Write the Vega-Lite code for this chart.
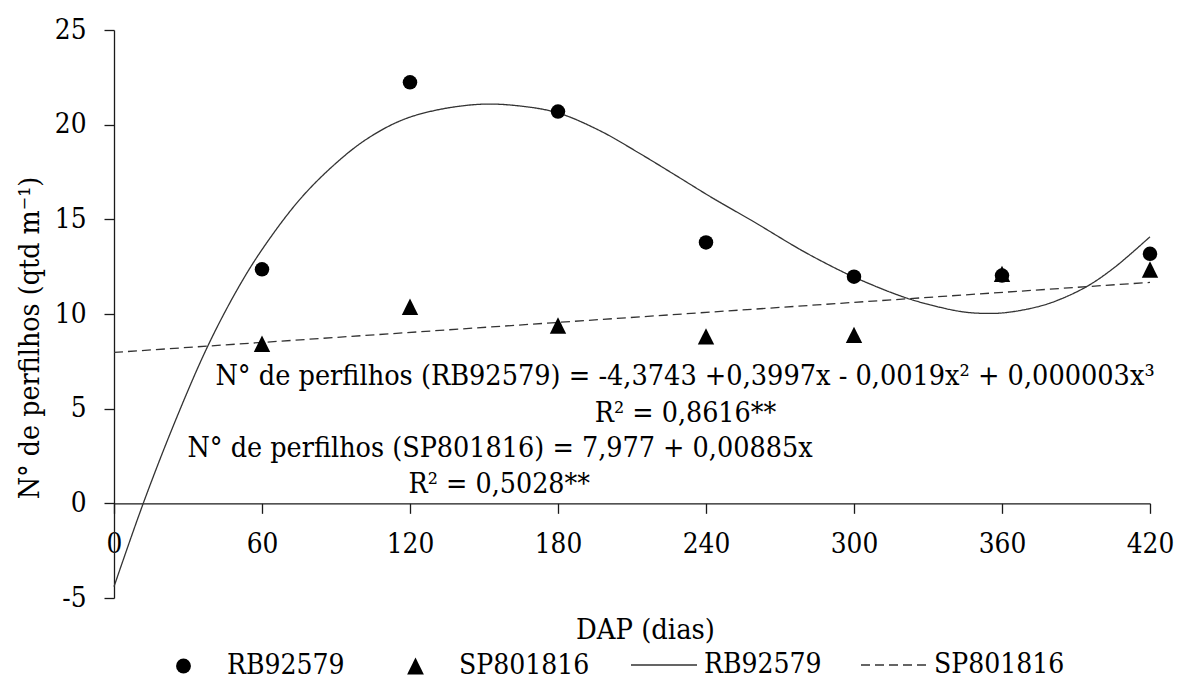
{
  "$schema": "https://vega.github.io/schema/vega-lite/v6.json",
  "width": 1036,
  "height": 568,
  "autosize": {"type": "none"},
  "padding": {"left": 114, "top": 30, "right": 28, "bottom": 84},
  "background": "#ffffff",
  "config": {
    "font": "DejaVu Serif Condensed",
    "view": {"stroke": null},
    "axis": {
      "grid": false,
      "domainColor": "#1a1a1a",
      "tickColor": "#1a1a1a",
      "domainWidth": 1.3,
      "tickWidth": 1.3,
      "tickSize": 10,
      "labelFont": "DejaVu Serif Condensed",
      "labelFontSize": 27.7,
      "labelColor": "#000000",
      "labelFlush": false,
      "labelOverlap": false,
      "titleFont": "DejaVu Serif Condensed",
      "titleFontSize": 28.3,
      "titleFontWeight": "normal",
      "titleColor": "#000000"
    },
    "legend": {
      "labelFont": "DejaVu Serif Condensed",
      "labelFontSize": 28,
      "labelColor": "#000000",
      "labelLimit": 300,
      "padding": 0
    }
  },
  "datasets": {
    "pontos": [
      {"dap": 60, "cultivar": "SP801816", "n": 8.43},
      {"dap": 120, "cultivar": "SP801816", "n": 10.38},
      {"dap": 180, "cultivar": "SP801816", "n": 9.39},
      {"dap": 240, "cultivar": "SP801816", "n": 8.82},
      {"dap": 300, "cultivar": "SP801816", "n": 8.9},
      {"dap": 360, "cultivar": "SP801816", "n": 12.12},
      {"dap": 420, "cultivar": "SP801816", "n": 12.35},
      {"dap": 60, "cultivar": "RB92579", "n": 12.36},
      {"dap": 120, "cultivar": "RB92579", "n": 22.24},
      {"dap": 180, "cultivar": "RB92579", "n": 20.69},
      {"dap": 240, "cultivar": "RB92579", "n": 13.78},
      {"dap": 300, "cultivar": "RB92579", "n": 11.97},
      {"dap": 360, "cultivar": "RB92579", "n": 12.03},
      {"dap": 420, "cultivar": "RB92579", "n": 13.18}
    ],
    "ajustes": [
      {"dap": 0, "ajuste": "RB92579 ajuste", "n": -4.4},
      {"dap": 12, "ajuste": "RB92579 ajuste", "n": 0.05},
      {"dap": 25, "ajuste": "RB92579 ajuste", "n": 4.4},
      {"dap": 38, "ajuste": "RB92579 ajuste", "n": 8.3},
      {"dap": 50, "ajuste": "RB92579 ajuste", "n": 11.3},
      {"dap": 60, "ajuste": "RB92579 ajuste", "n": 13.4},
      {"dap": 75, "ajuste": "RB92579 ajuste", "n": 16.0},
      {"dap": 89, "ajuste": "RB92579 ajuste", "n": 17.85},
      {"dap": 102, "ajuste": "RB92579 ajuste", "n": 19.2},
      {"dap": 116, "ajuste": "RB92579 ajuste", "n": 20.2},
      {"dap": 130, "ajuste": "RB92579 ajuste", "n": 20.75},
      {"dap": 149, "ajuste": "RB92579 ajuste", "n": 21.08},
      {"dap": 165, "ajuste": "RB92579 ajuste", "n": 20.98},
      {"dap": 180, "ajuste": "RB92579 ajuste", "n": 20.62},
      {"dap": 197, "ajuste": "RB92579 ajuste", "n": 19.68},
      {"dap": 213, "ajuste": "RB92579 ajuste", "n": 18.49},
      {"dap": 228, "ajuste": "RB92579 ajuste", "n": 17.3},
      {"dap": 243, "ajuste": "RB92579 ajuste", "n": 16.1},
      {"dap": 259, "ajuste": "RB92579 ajuste", "n": 14.9},
      {"dap": 278, "ajuste": "RB92579 ajuste", "n": 13.42},
      {"dap": 290, "ajuste": "RB92579 ajuste", "n": 12.58},
      {"dap": 300, "ajuste": "RB92579 ajuste", "n": 11.95},
      {"dap": 320, "ajuste": "RB92579 ajuste", "n": 10.9},
      {"dap": 335, "ajuste": "RB92579 ajuste", "n": 10.35},
      {"dap": 345, "ajuste": "RB92579 ajuste", "n": 10.1},
      {"dap": 354, "ajuste": "RB92579 ajuste", "n": 10.03},
      {"dap": 362, "ajuste": "RB92579 ajuste", "n": 10.08},
      {"dap": 375, "ajuste": "RB92579 ajuste", "n": 10.4},
      {"dap": 384, "ajuste": "RB92579 ajuste", "n": 10.8},
      {"dap": 395, "ajuste": "RB92579 ajuste", "n": 11.5},
      {"dap": 406, "ajuste": "RB92579 ajuste", "n": 12.5},
      {"dap": 420, "ajuste": "RB92579 ajuste", "n": 14.08},
      {"dap": 0, "ajuste": "SP801816 ajuste", "n": 7.97},
      {"dap": 420, "ajuste": "SP801816 ajuste", "n": 11.67}
    ]
  },
  "layer": [
    {
      "data": {"name": "ajustes"},
      "mark": {"type": "line", "interpolate": "catmull-rom", "color": "#333333", "strokeWidth": 1.3},
      "encoding": {
        "x": {
          "field": "dap",
          "type": "quantitative",
          "scale": {"domain": [0, 420], "nice": false, "zero": false},
          "axis": {
            "title": "DAP (dias)",
            "values": [0, 60, 120, 180, 240, 300, 360, 420],
            "offset": -94.667,
            "labelBaseline": "alphabetic",
            "labelPadding": 38.7,
            "titleX": 531,
            "titleY": 134.7,
            "titleBaseline": "alphabetic",
            "titleFontSize": 28.8
          }
        },
        "y": {
          "field": "n",
          "type": "quantitative",
          "scale": {"domain": [-5, 25], "nice": false, "zero": false},
          "axis": {
            "title": "N° de perfilhos (qtd m⁻¹)",
            "values": [-5, 0, 5, 10, 15, 20, 25],
            "labelExpr": "'' + datum.value",
            "labelPadding": 18,
            "titleX": -76,
            "titleY": 307.5,
            "titleBaseline": "alphabetic"
          }
        },
        "strokeDash": {
          "field": "ajuste",
          "type": "nominal",
          "scale": {"domain": ["RB92579 ajuste", "SP801816 ajuste"], "range": [[1, 0], [9, 5]]},
          "legend": {
            "orient": "none",
            "legendX": 516,
            "legendY": 601,
            "direction": "horizontal",
            "title": null,
            "symbolType": "stroke",
            "symbolSize": 4356,
            "symbolStrokeWidth": 1.3,
            "symbolStrokeColor": "#333333",
            "labelOffset": 6,
            "columnPadding": 36,
            "labelExpr": "split(datum.label, ' ')[0]"
          }
        }
      }
    },
    {
      "data": {"name": "pontos"},
      "mark": {"type": "point", "filled": true, "color": "#000000", "opacity": 1, "size": 210},
      "encoding": {
        "x": {"field": "dap", "type": "quantitative"},
        "y": {"field": "n", "type": "quantitative"},
        "shape": {
          "field": "cultivar",
          "type": "nominal",
          "scale": {"domain": ["RB92579", "SP801816"], "range": ["circle", "M0,-1.13L-1.13,1.13L1.13,1.13Z"]},
          "legend": {
            "orient": "none",
            "legendX": 55.5,
            "legendY": 622,
            "direction": "horizontal",
            "title": null,
            "symbolSize": 220,
            "symbolFillColor": "#000000",
            "symbolStrokeColor": "#000000",
            "symbolStrokeWidth": 0,
            "labelOffset": 29.5,
            "columnPadding": 56
          }
        }
      }
    },
    {
      "data": {"values": [{"texto": "N° de perfilhos (RB92579) = -4,3743 +0,3997x - 0,0019x² + 0,000003x³"}]},
      "mark": {"type": "text", "fontSize": 28.5, "align": "center", "baseline": "alphabetic", "color": "#000000"},
      "encoding": {
        "x": {"datum": 231.5, "type": "quantitative"},
        "y": {"datum": 6.25, "type": "quantitative"},
        "text": {"field": "texto"}
      }
    },
    {
      "data": {"values": [{"texto": "R² = 0,8616**"}]},
      "mark": {"type": "text", "fontSize": 28.3, "align": "center", "baseline": "alphabetic", "color": "#000000"},
      "encoding": {
        "x": {"datum": 231.7, "type": "quantitative"},
        "y": {"datum": 4.31, "type": "quantitative"},
        "text": {"field": "texto"}
      }
    },
    {
      "data": {"values": [{"texto": "N° de perfilhos (SP801816) = 7,977 + 0,00885x"}]},
      "mark": {"type": "text", "fontSize": 28.4, "align": "center", "baseline": "alphabetic", "color": "#000000"},
      "encoding": {
        "x": {"datum": 156.5, "type": "quantitative"},
        "y": {"datum": 2.46, "type": "quantitative"},
        "text": {"field": "texto"}
      }
    },
    {
      "data": {"values": [{"texto": "R² = 0,5028**"}]},
      "mark": {"type": "text", "fontSize": 28.3, "align": "center", "baseline": "alphabetic", "color": "#000000"},
      "encoding": {
        "x": {"datum": 156.2, "type": "quantitative"},
        "y": {"datum": 0.53, "type": "quantitative"},
        "text": {"field": "texto"}
      }
    }
  ]
}
